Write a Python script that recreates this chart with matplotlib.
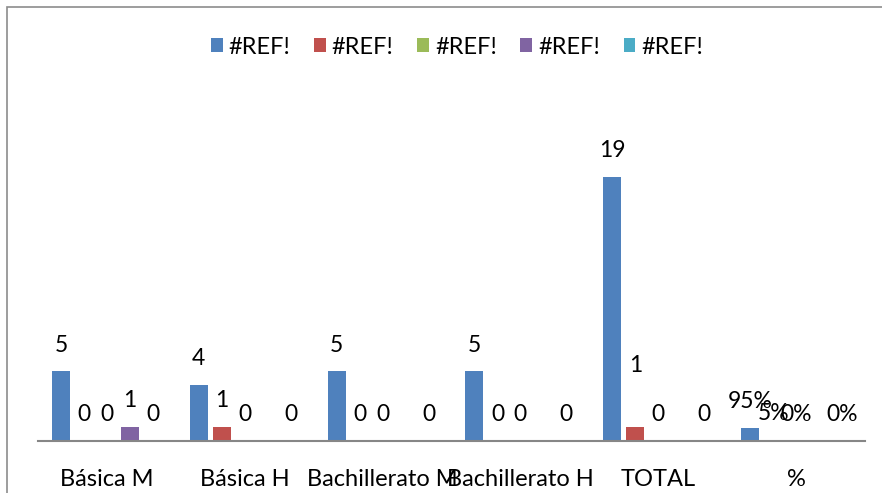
import numpy as np
import matplotlib
matplotlib.use('Agg')
import matplotlib.pyplot as plt
from matplotlib.patches import Rectangle

categories = ["Básica M", "Básica H", "Bachillerato M", "Bachillerato H", "TOTAL", "%"]
series_names = ["#REF!", "#REF!", "#REF!", "#REF!", "#REF!"]
s1 = [5, 4, 5, 5, 19, 0.95]
s2 = [0, 1, 0, 0, 1, 0.05]
s3 = [0, 0, 0, 0, 0, 0.0]
s4 = [1, np.nan, np.nan, np.nan, np.nan, np.nan]
s5 = [0, 0, 0, 0, 0, 0.0]
series = [s1, s2, s3, s4, s5]
colors = ["#4F81BD", "#C0504D", "#9BBB59", "#8064A2", "#4BACC6"]

plt.rcParams['font.family'] = ['Lato', 'DejaVu Sans']

fig = plt.figure(figsize=(8.82, 4.93), dpi=100)
ax = fig.add_axes([38/882, 1-441/493, 827/882, 306/493])

x = np.arange(len(categories)) + 0.5
step = 23/138
width = 18/138
for i, (vals, c) in enumerate(zip(series, colors)):
    pos = x + (i-2)*step
    ax.bar(pos, vals, width, color=c, label=series_names[i], zorder=2)
    for j, v in enumerate(vals):
        if np.isnan(v):
            continue
        if categories[j] == "%":
            txt = "%d%%" % round(v*100)
        else:
            txt = "%d" % v
        dy = 19
        if categories[j] == "TOTAL" and i == 1:
            dy = 44
        ax.annotate(txt, (pos[j], v), xytext=(0, dy), textcoords='offset points',
                    ha='center', va='center', fontsize=16.5, color='black')

ax.set_xlim(0, 6)
ax.set_ylim(0, 22)
ax.set_xticks(x)
ax.set_xticklabels(categories, fontsize=17)
ax.tick_params(axis='x', length=0, pad=20)
ax.set_yticks([])
for s in ['top', 'right', 'left']:
    ax.spines[s].set_visible(False)
ax.spines['bottom'].set_color('#868686')
ax.spines['bottom'].set_linewidth(1.5)
ax.spines['bottom'].set_zorder(3)

fig.legend(loc='center', bbox_to_anchor=(457/882, 1-47/493), ncol=5, frameon=False,
           fontsize=17, handlelength=0.5, handleheight=0.5, handletextpad=0.25,
           columnspacing=1.0)

fig.patches.append(Rectangle((7/882, -0.1), 1.2, 1.1-7/493, transform=fig.transFigure,
                             fill=False, edgecolor='#8c8c8c', linewidth=1.2))

fig.savefig('out.png', dpi=100)
plt.close(fig)
